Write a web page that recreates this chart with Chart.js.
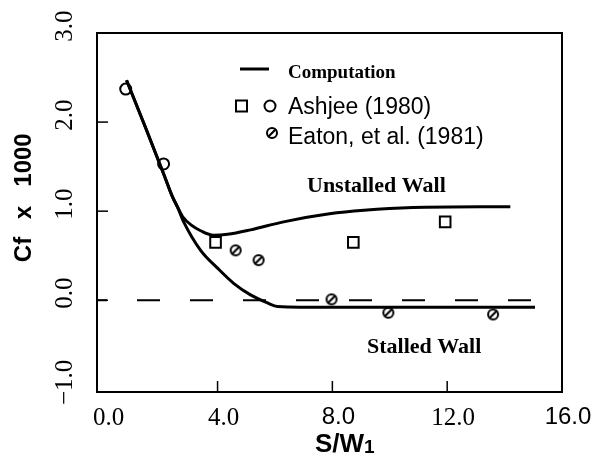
<!DOCTYPE html>
<html>
<head>
<meta charset="utf-8">
<script src="https://cdn.jsdelivr.net/npm/chart.js@4.4.1/dist/chart.umd.min.js"></script>
<style>
  html, body { margin: 0; padding: 0; background: #fff; }
  #wrap { width: 597px; height: 472px; }
</style>
</head>
<body>
<div id="wrap"><canvas id="cfChart" width="597" height="472"></canvas></div>
<script>
// computed Cf: common branch from the inlet, then it splits into the two walls
const unstalledX = [0.83, 1.5, 2.12, 2.43, 2.6, 2.78, 3.1, 3.41, 3.86, 4.35, 5.15, 6.3, 7.9, 9.1, 10.8, 14.2];
const unstalledY = [2.47, 1.93, 1.42, 1.16, 1.05, 0.94, 0.84, 0.78, 0.73, 0.74, 0.79, 0.88, 0.97, 1.01, 1.04, 1.05];
const stalledX = [0.83, 1.5, 2.12, 2.43, 2.6, 2.82, 3.41, 4.0, 4.56, 5.15, 5.74, 6.09, 8.0, 15.06];
const stalledY = [2.47, 1.93, 1.42, 1.16, 1.05, 0.88, 0.56, 0.36, 0.19, 0.06, -0.03, -0.07, -0.08, -0.08];

// Ashjee (1980)
const ashjeeSqX = [3.93, 8.73, 11.93];
const ashjeeSqY = [0.65, 0.65, 0.88];
const ashjeeCircX = [0.8, 2.12];
const ashjeeCircY = [2.37, 1.53];

// Eaton, et al. (1981)
const eatonX = [4.63, 5.43, 7.97, 9.95, 13.6];
const eatonY = [0.56, 0.45, 0.01, -0.14, -0.16];

// Cf = 0 reference line
const zeroX = [-0.2, 15.0];
const zeroY = [0, 0];

const xTicks = [0, 4, 8, 12, 16];
const xTickLabels = ['0.0', '4.0', '8.0', '12.0', '16.0'];
const yTicks = [-1, 0, 1, 2, 3];
const yTickLabels = ['\u22121.0', '0.0', '1.0', '2.0', '3.0'];

const legendLabels = ['Computation', 'Ashjee (1980)', 'Eaton, et al. (1981)'];
const wallLabels = ['Unstalled Wall', 'Stalled Wall'];

const SERIF = '"Liberation Serif", "DejaVu Serif", serif';
const SANS = '"Liberation Sans", Arial, sans-serif';

function pairs(xs, ys) {
    return xs.map((x, i) => ({ x: x, y: ys[i] }));
}

// circle with a slash, used for the Eaton data
function slashedCircle(r) {
    const c = document.createElement('canvas');
    const s = Math.ceil(2 * r + 4);
    c.width = s;
    c.height = s;
    const g = c.getContext('2d');
    g.strokeStyle = '#000';
    g.lineWidth = 2;
    g.beginPath();
    g.arc(s / 2, s / 2, r, 0, Math.PI * 2);
    g.stroke();
    g.lineWidth = 2.2;
    g.beginPath();
    g.moveTo(s / 2 - r * 0.75, s / 2 + r * 0.75);
    g.lineTo(s / 2 + r * 0.75, s / 2 - r * 0.75);
    g.stroke();
    return c;
}
const eatonMark = slashedCircle(5);

// frame, inner ticks, rotated y labels, titles, legend and wall labels
const decorations = {
    id: 'decorations',
    afterDraw(chart) {
        const ctx = chart.ctx;
        const a = chart.chartArea;
        const xs = chart.scales.x;
        const ys = chart.scales.y;
        ctx.save();
        ctx.strokeStyle = '#000';
        ctx.fillStyle = '#000';

        ctx.lineWidth = 2;
        ctx.strokeRect(a.left, a.top, a.right - a.left, a.bottom - a.top);

        // inner tick marks (the ones on the frame edges are left out)
        ctx.lineWidth = 1.5;
        xTicks.slice(1, -1).forEach(v => {
            const px = xs.getPixelForValue(v);
            ctx.beginPath();
            ctx.moveTo(px, a.bottom);
            ctx.lineTo(px, a.bottom - 11);
            ctx.stroke();
        });
        yTicks.slice(1, -1).forEach(v => {
            const py = ys.getPixelForValue(v);
            ctx.beginPath();
            ctx.moveTo(a.left, py);
            ctx.lineTo(a.left + 11, py);
            ctx.stroke();
        });

        // y tick labels, read bottom to top
        ctx.font = '25px ' + SERIF;
        ctx.textAlign = 'center';
        ctx.textBaseline = 'middle';
        yTicks.forEach((v, i) => {
            const py = ys.getPixelForValue(v) - 7;
            ctx.save();
            ctx.translate(65, py);
            ctx.rotate(-Math.PI / 2);
            ctx.fillText(yTickLabels[i], 0, 0);
            ctx.restore();
        });

        // y title
        ctx.save();
        ctx.translate(31, 0);
        ctx.rotate(-Math.PI / 2);
        ctx.font = 'bold 24px ' + SANS;
        ctx.textBaseline = 'alphabetic';
        ctx.textAlign = 'center';
        ctx.fillText('Cf', -249.5, 0);
        ctx.fillText('x', -212.5, 0);
        ctx.fillText('1000', -160, 0);
        ctx.restore();

        // x title with subscript
        ctx.textAlign = 'left';
        ctx.textBaseline = 'alphabetic';
        ctx.font = 'bold 26px ' + SANS;
        ctx.fillText('S/W', 315, 452);
        const wS = ctx.measureText('S/W').width;
        ctx.font = 'bold 19px ' + SANS;
        ctx.fillText('1', 315 + wS, 453);

        // legend
        ctx.lineWidth = 3;
        ctx.beginPath();
        ctx.moveTo(240, 69);
        ctx.lineTo(269, 69);
        ctx.stroke();
        ctx.font = 'bold 19px ' + SERIF;
        ctx.fillText(legendLabels[0], 288, 78);

        ctx.lineWidth = 2;
        ctx.strokeRect(236, 100.5, 11, 11);
        ctx.beginPath();
        ctx.arc(270, 106, 5.5, 0, Math.PI * 2);
        ctx.stroke();
        ctx.drawImage(eatonMark, 272 - eatonMark.width / 2, 133 - eatonMark.height / 2);
        ctx.font = '23px ' + SANS;
        ctx.fillText(legendLabels[1], 288, 114);
        ctx.fillText(legendLabels[2], 288, 144);

        // wall labels
        ctx.font = 'bold 22px ' + SERIF;
        ctx.fillText(wallLabels[0], 307, 192);
        ctx.fillText(wallLabels[1], 367, 353);

        ctx.restore();
    }
};

const lineStyle = {
    borderColor: '#000',
    borderWidth: 3,
    pointRadius: 0,
    fill: false,
    cubicInterpolationMode: 'monotone'
};

const ctx = document.getElementById('cfChart').getContext('2d');
const cfChart = new Chart(ctx, {
    type: 'scatter',
    data: {
        datasets: [
            Object.assign({ label: 'Unstalled', data: pairs(unstalledX, unstalledY), showLine: true }, lineStyle),
            Object.assign({ label: 'Stalled', data: pairs(stalledX, stalledY), showLine: true }, lineStyle),
            {
                label: 'zero',
                data: pairs(zeroX, zeroY),
                showLine: true,
                borderColor: '#000',
                borderWidth: 2,
                borderDash: [23, 30],
                borderDashOffset: 13,
                pointRadius: 0
            },
            {
                label: 'Ashjee squares',
                data: pairs(ashjeeSqX, ashjeeSqY),
                pointStyle: 'rect',
                pointRadius: 7.5,
                borderColor: '#000',
                backgroundColor: 'rgba(0,0,0,0)',
                borderWidth: 2
            },
            {
                label: 'Ashjee circles',
                data: pairs(ashjeeCircX, ashjeeCircY),
                pointStyle: 'circle',
                pointRadius: 5.5,
                borderColor: '#000',
                backgroundColor: 'rgba(0,0,0,0)',
                borderWidth: 2
            },
            {
                label: 'Eaton',
                data: pairs(eatonX, eatonY),
                pointStyle: eatonMark,
                pointRadius: 5
            }
        ]
    },
    plugins: [decorations],
    options: {
        responsive: false,
        animation: false,
        layout: { padding: { top: 33, right: 35, left: 0, bottom: 0 } },
        plugins: {
            legend: { display: false },
            tooltip: { enabled: false }
        },
        scales: {
            x: {
                type: 'linear',
                min: -0.2,
                max: 16,
                afterBuildTicks: s => { s.ticks = xTicks.map(v => ({ value: v })); },
                afterFit: s => { s.height = 80; },
                grid: { display: false, drawTicks: false },
                border: { display: false },
                ticks: {
                    color: '#000',
                    padding: 11,
                    maxRotation: 0,
                    autoSkip: false,
                    labelOffset: 6,
                    font: c => ({
                        family: (c.tick && (c.tick.value === 8 || c.tick.value === 16)) ? SANS : SERIF,
                        size: (c.tick && (c.tick.value === 8 || c.tick.value === 16)) ? 24 : 25
                    }),
                    callback: v => xTickLabels[xTicks.indexOf(v)]
                }
            },
            y: {
                type: 'linear',
                min: -1.03,
                max: 3.0,
                afterBuildTicks: s => { s.ticks = yTicks.map(v => ({ value: v })); },
                afterFit: s => { s.width = 97; },
                grid: { display: false, drawTicks: false },
                border: { display: false },
                ticks: { display: false }
            }
        }
    }
});
</script>
</body>
</html>
